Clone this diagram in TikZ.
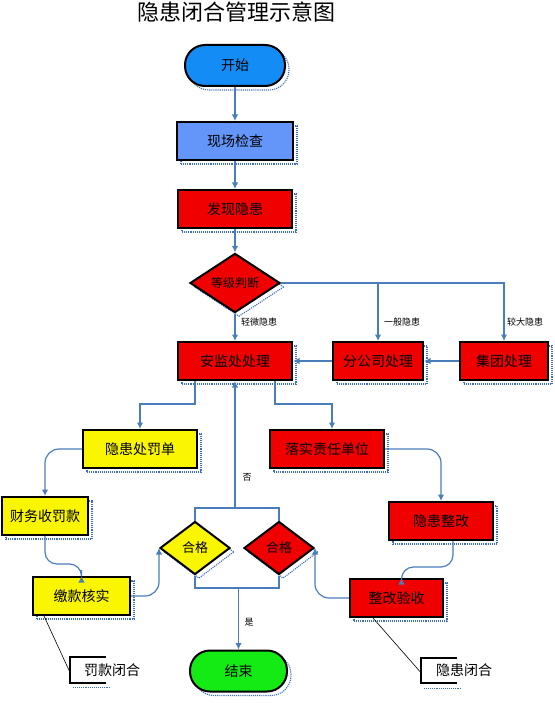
\documentclass[tikz,border=0pt]{standalone}
\usepackage{fontspec}
\setmainfont{Noto Sans CJK SC}
\usetikzlibrary{shapes.geometric,arrows.meta,calc,shadows}
\definecolor{cblueA}{RGB}{20,140,245}
\definecolor{cblueB}{RGB}{100,150,250}
\definecolor{cred}{RGB}{240,0,0}
\definecolor{cyel}{RGB}{250,245,0}
\definecolor{cgreen}{RGB}{20,235,20}
\definecolor{cconn}{RGB}{74,126,187}
\definecolor{cshad}{RGB}{60,110,190}
\tikzset{
  shad/.style={general shadow={shadow xshift=4pt,shadow yshift=-4pt,draw=cshad,densely dotted,line width=1.1pt,fill=none}},
  boxA/.style={rectangle,draw=black,line width=2pt,minimum width=114pt,minimum height=38pt,inner sep=0pt,font=\fontsize{14pt}{16pt}\selectfont,shad},
  pill/.style={rectangle,rounded corners=20pt,draw=black,line width=2pt,minimum width=100pt,minimum height=41pt,inner sep=0pt,font=\fontsize{14pt}{16pt}\selectfont,shad},
  dia/.style={diamond,draw=black,line width=2pt,minimum width=90pt,minimum height=53pt,inner sep=0pt,font=\fontsize{12pt}{14pt}\selectfont,shad},
  conn/.style={draw=cconn,line width=1.2pt,-{Latex[length=6.5pt,width=6.5pt]}},
  cline/.style={draw=cconn,line width=1.2pt},
  lab/.style={font=\fontsize{9pt}{10pt}\selectfont,inner sep=0pt},
  notebr/.style={minimum width=36pt,minimum height=25pt,inner sep=0pt},
  notetx/.style={font=\fontsize{14pt}{16pt}\selectfont,inner sep=0pt},
}
\begin{document}
\begin{tikzpicture}[x=1pt,y=-1pt]
\useasboundingbox (0,0) rectangle (554,703);
% title
\node[font=\fontsize{22pt}{24pt}\selectfont,inner sep=0pt] (title) at (236.5,12) {隐患闭合管理示意图};
% nodes
\node[pill,fill=cblueA] (start) at (235,65.5) {开始};
\node[boxA,fill=cblueB,minimum width=116pt] (xc) at (235,141) {现场检查};
\node[boxA,fill=cred] (fx) at (235,209) {发现隐患};
\node[dia,fill=cred] (dj) at (235,283) {等级判断};
\node[boxA,fill=cred] (ajc) at (235,361) {安监处处理};
\node[boxA,fill=cred,minimum width=90pt] (fgs) at (378,361) {分公司处理};
\node[boxA,fill=cred,minimum width=88pt] (jt) at (504,361) {集团处理};
\node[boxA,fill=cyel] (cf) at (140,449) {隐患处罚单};
\node[boxA,fill=cred] (ls) at (327,449) {落实责任单位};
\node[boxA,fill=cyel,minimum width=86pt] (cw) at (45,516) {财务收罚款};
\node[boxA,fill=cyel,minimum width=97pt] (jk) at (81.5,596) {缴款核实};
\node[boxA,fill=cred,minimum width=104pt] (zg) at (441,521) {隐患整改};
\node[boxA,fill=cred,minimum width=93pt] (ys) at (396.5,598) {整改验收};
\node[dia,fill=cyel,minimum width=70pt,font=\fontsize{13pt}{15pt}\selectfont] (hg1) at (195,548) {合格};
\node[dia,fill=cred,minimum width=70pt,font=\fontsize{13pt}{15pt}\selectfont] (hg2) at (279,548) {合格};
\node[pill,fill=cgreen,minimum width=97pt] (end) at (238.5,671) {结束};
% note brackets
\node[notebr] (fkb) at (88,670) {};
\node[notetx] (fk) at (112,670) {罚款闭合};
\node[notebr] (yhb) at (439,670.5) {};
\node[notetx] (yh) at (464,670) {隐患闭合};
\draw[line width=2pt] (fkb.north east) -- (fkb.north west) -- (fkb.south west) -- (fkb.south east);
\draw[line width=2pt] (yhb.north east) -- (yhb.north west) -- (yhb.south west) -- (yhb.south east);
\draw[cshad,densely dotted,line width=1.1pt] ([xshift=3pt,yshift=-5pt]fkb.south west) -- ([xshift=4pt,yshift=-5pt]fkb.south east);
\draw[cshad,densely dotted,line width=1.1pt] ([xshift=3pt,yshift=-5pt]yhb.south west) -- ([xshift=4pt,yshift=-5pt]yhb.south east);
\draw[black,line width=0.6pt] ([xshift=12pt]jk.south west) -- ([yshift=-2pt]fkb.west);
\draw[black,line width=0.6pt] ([xshift=24pt]ys.south west) -- ([yshift=-2pt]yhb.west);
% connectors
\draw[conn] (start) -- (xc);
\draw[conn] (xc) -- (fx);
\draw[conn] (fx) -- (dj);
\draw[conn] (dj.south) -- (ajc.north);
\draw[conn] (dj.east) -| (jt.north);
\draw[conn] (fgs.north |- dj.east) -- (fgs.north);
\draw[conn] (jt.west) -- (fgs.east);
\draw[conn] (fgs.west) -- (ajc.east);
\node[lab,anchor=west] (l1) at (241,322) {轻微隐患};
\node[lab,anchor=west] (l2) at (384,322) {一般隐患};
\node[lab,anchor=west] (l3) at (507,322) {较大隐患};
\draw[conn] ([xshift=-40pt]ajc.south) |- ($(cf.north)+(0,-25)$) -- (cf.north);
\draw[conn] ([xshift=40pt]ajc.south) |- ($(ls.north)+(5,-25)$) -- ([xshift=5pt]ls.north);
\draw[conn,rounded corners=14pt] (cf.west) -| (cw.north);
\draw[conn,rounded corners=12pt] (cw.south) |- ($(jk.north)+(0,-12)$) -- (jk.north);
\draw[conn,rounded corners=14pt] (ls.east) -| (zg.north);
\draw[conn,rounded corners=12pt] ([xshift=12pt]zg.south) |- ($(ys.north)+(5,-11)$) -- ([xshift=5pt]ys.north);
\draw[conn,rounded corners=14pt] (jk.east) -| (hg1.west);
\draw[conn,rounded corners=14pt] (ys.west) -| (hg2.east);
\coordinate (jtop) at (ajc.south |- 0,508);
\coordinate (jbot) at (end.north |- 0,588);
\draw[cline] (hg1.north) |- (jtop) -| (hg2.north);
\draw[conn] (jtop) -- (ajc.south);
\draw[cline] (hg1.south) |- (jbot) -| (hg2.south);
\draw[conn] (jbot) -- (end.north);
\node[lab] (no) at (247,477) {否};
\node[lab] (yes) at (249,622) {是};
\end{tikzpicture}
\end{document}
